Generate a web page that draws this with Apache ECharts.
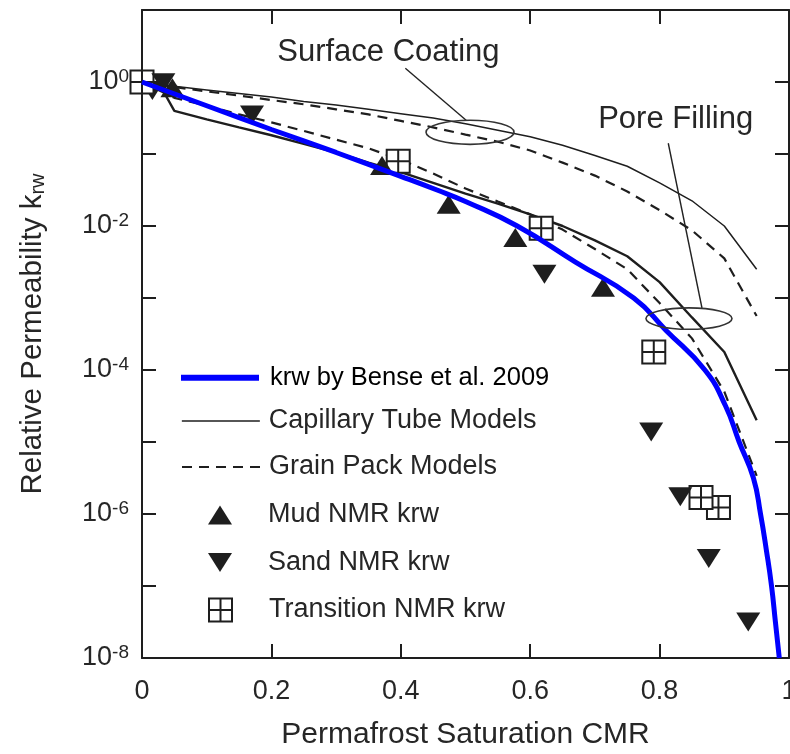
<!DOCTYPE html>
<html>
<head>
<meta charset="utf-8">
<title>Relative permeability vs permafrost saturation</title>
<script src="https://cdn.jsdelivr.net/npm/echarts@6/dist/echarts.min.js"></script>
<style>
  html, body { margin: 0; padding: 0; background: #fff; }
  #chart { width: 790px; height: 754px; }
</style>
</head>
<body>
<div id="chart"></div>
<script>
// ---- data -------------------------------------------------------------
// Model curves, sampled in permafrost saturation steps
const modelSat = [0, 0.05, 0.1, 0.15, 0.2, 0.25, 0.3, 0.35, 0.4, 0.45, 0.5, 0.55, 0.6, 0.65, 0.7, 0.75, 0.8, 0.85, 0.9, 0.95];
const capillaryCoating = [1, 0.871, 0.776, 0.692, 0.617, 0.537, 0.479, 0.417, 0.363, 0.316, 0.263, 0.214, 0.174, 0.132, 0.0955, 0.0676, 0.0398, 0.0224, 0.01, 0.00251];
const grainCoating = [1, 0.851, 0.741, 0.646, 0.562, 0.490, 0.417, 0.355, 0.288, 0.234, 0.186, 0.148, 0.112, 0.0759, 0.0501, 0.0302, 0.0166, 0.00871, 0.00355, 0.000562];
const grainFilling = [1, 0.603, 0.468, 0.355, 0.275, 0.209, 0.158, 0.120, 0.0832, 0.0537, 0.0331, 0.0219, 0.0145, 0.00891, 0.00479, 0.00251, 0.000851, 0.000275, 0.0000501, 0.00000339];
const capillaryFillingSat = [0, 0.03, 0.05, 0.1, 0.15, 0.2, 0.25, 0.3, 0.35, 0.4, 0.45, 0.5, 0.55, 0.6, 0.65, 0.7, 0.75, 0.8, 0.85, 0.9, 0.95];
const capillaryFilling = [1, 0.832, 0.398, 0.302, 0.234, 0.182, 0.138, 0.105, 0.0759, 0.0562, 0.0398, 0.0282, 0.0204, 0.0145, 0.01, 0.00631, 0.0038, 0.00166, 0.000537, 0.000178, 0.00002];

// Bense et al. (2009) relation
const benseSat = [0, 0.1, 0.2, 0.3, 0.4, 0.456, 0.5, 0.58, 0.67, 0.76, 0.81, 0.87, 0.902, 0.923, 0.945, 0.956, 0.965, 0.973, 0.979, 0.985];
const benseKrw = [1, 0.468, 0.219, 0.105, 0.049, 0.0316, 0.0219, 0.01, 0.00316, 0.001, 0.000355, 0.0001, 0.0000316, 0.00001, 0.00000316, 0.000001, 3.16e-7, 1e-7, 3.16e-8, 1e-8];

// NMR-derived krw
const mudSat = [0.047, 0.371, 0.474, 0.577, 0.7125];
const mudKrw = [0.832, 0.0692, 0.02, 0.00692, 0.00141];
const sandSat = [0.016, 0.033, 0.17, 0.622, 0.787, 0.832, 0.876, 0.937];
const sandKrw = [0.76, 0.977, 0.347, 0.00214, 1.38e-5, 1.74e-6, 2.4e-7, 3.16e-8];
const transSat = [0, 0.396, 0.617, 0.791, 0.891, 0.864];
const transKrw = [1, 0.0794, 0.00933, 0.000178, 1.23e-6, 1.70e-6];

// series / legend names
const BENSE = 'krw by Bense et al. 2009';
const CAPILLARY = 'Capillary Tube Models';
const GRAIN = 'Grain Pack Models';
const MUD = 'Mud NMR krw';
const SAND = 'Sand NMR krw';
const TRANSITION = 'Transition NMR krw';

// annotation labels
const annoSurface = 'Surface Coating';
const annoPore = 'Pore Filling';

// ---- styling ------------------------------------------------------------
const FONT = '"Liberation Sans", Arial, Helvetica, sans-serif';
const INK = '#1e1e1e';
const TEXT = '#262626';
const BLUE = '#0000ff';
const CROSS_BOX = 'path://M0,0H20V20H0Z M10,0V20 M0,10H20';
const DOWN_TRIANGLE = 'path://M0,0L24,0L12,19Z';

function pairs(xs, ys) { return xs.map((x, i) => [x, ys[i]]); }

const chart = echarts.init(document.getElementById('chart'), null, { renderer: 'canvas' });

const axisLineStyle = { color: INK, width: 2 };
const tickStyle = { show: true, inside: true, length: 14, lineStyle: { color: INK, width: 2 } };

function yLabel(v) {
  const e = Math.round(Math.log10(v));
  if (e % 2 !== 0) return '';
  return '{b|10}{s|' + e + '}';
}

// legend rows: one legend component per row so each sits at its own height
function legendRow(name, opts, textOpts) {
  return Object.assign({
    data: [name],
    orient: 'vertical',
    selectedMode: false,
    padding: 0,
    itemGap: 0,
    textStyle: Object.assign({ fontFamily: FONT, fontSize: 27, lineHeight: 27, color: TEXT }, textOpts)
  }, opts);
}

const LINE_ICON_W = 78;
const MARK_W = 24, MARK_H = 19;
const hideSymbol = { opacity: 0 };
const legends = [
  legendRow(BENSE, { left: 178, top: 377.7 - 13.5, itemWidth: LINE_ICON_W, itemHeight: 20,
    itemStyle: hideSymbol, lineStyle: { width: 6 } },
    { fontSize: 25.5, color: '#000', padding: [0, 0, 0, 6] }),
  legendRow(CAPILLARY, { left: 181, top: 421 - 13.5, itemWidth: LINE_ICON_W, itemHeight: 20,
    itemStyle: hideSymbol, lineStyle: { width: 1.7 } },
    { padding: [0, 0, 0, 4] }),
  legendRow(GRAIN, { left: 181, top: 467 - 13.5, itemWidth: LINE_ICON_W, itemHeight: 20,
    itemStyle: hideSymbol, lineStyle: { width: 2 } },
    { padding: [0, 0, 0, 4] }),
  legendRow(MUD, { left: 208, top: 515 - 13.5, itemWidth: MARK_W, itemHeight: MARK_H },
    { padding: [0, 0, 0, 31] }),
  legendRow(SAND, { left: 208, top: 562.5 - 13.5, itemWidth: MARK_W, itemHeight: MARK_H },
    { padding: [0, 0, 0, 31] }),
  legendRow(TRANSITION, { left: 208, top: 610 - 13.5, itemWidth: 23, itemHeight: 23 },
    { padding: [0, 0, 0, 32] })
];

const option = {
  animation: false,
  backgroundColor: '#fff',
  grid: { left: 142, top: 10, right: 1, bottom: 96, outerBoundsMode: 'none', containLabel: false },
  legend: legends,
  xAxis: [
    {
      type: 'value', min: 0, max: 1, interval: 0.2, position: 'bottom',
      name: 'Permafrost Saturation CMR', nameLocation: 'middle', nameGap: 62,
      nameTextStyle: { fontFamily: FONT, fontSize: 30, color: TEXT },
      axisLine: { show: true, onZero: false, lineStyle: axisLineStyle },
      axisTick: tickStyle,
      splitLine: { show: false },
      axisLabel: { fontFamily: FONT, fontSize: 27, color: TEXT, margin: 20 }
    },
    {
      type: 'value', min: 0, max: 1, interval: 0.2, position: 'top',
      axisLine: { show: true, onZero: false, lineStyle: axisLineStyle },
      axisTick: tickStyle,
      splitLine: { show: false },
      axisLabel: { show: false }
    }
  ],
  yAxis: [
    {
      type: 'log', logBase: 10, min: 1e-8, max: 10, splitNumber: 9, position: 'left',
      name: 'Relative Permeability k{sub|rw}', nameLocation: 'middle', nameGap: 94,
      nameTextStyle: {
        fontFamily: FONT, fontSize: 29.5, color: TEXT,
        rich: { sub: { fontFamily: FONT, fontSize: 20, lineHeight: 20, color: TEXT, verticalAlign: 'bottom' } }
      },
      axisLine: { show: true, onZero: false, lineStyle: axisLineStyle },
      axisTick: tickStyle,
      minorTick: { show: false },
      splitLine: { show: false },
      axisLabel: {
        margin: 13, formatter: yLabel,
        rich: {
          b: { fontFamily: FONT, fontSize: 27, lineHeight: 30, color: TEXT },
          s: { fontFamily: FONT, fontSize: 19, lineHeight: 19, color: TEXT, verticalAlign: 'top' }
        }
      }
    },
    {
      type: 'log', logBase: 10, min: 1e-8, max: 10, splitNumber: 9, position: 'right',
      axisLine: { show: true, onZero: false, lineStyle: axisLineStyle },
      axisTick: tickStyle,
      minorTick: { show: false },
      splitLine: { show: false },
      axisLabel: { show: false }
    }
  ],
  series: [
    { name: CAPILLARY, type: 'line', data: pairs(modelSat, capillaryCoating), symbol: 'none',
      lineStyle: { color: INK, width: 1.5 }, itemStyle: { color: INK }, z: 2 },
    { name: CAPILLARY, type: 'line', data: pairs(capillaryFillingSat, capillaryFilling), symbol: 'none',
      lineStyle: { color: INK, width: 2.4 }, itemStyle: { color: INK }, z: 2 },
    { name: GRAIN, type: 'line', data: pairs(modelSat, grainCoating), symbol: 'none',
      lineStyle: { color: INK, width: 2.2, type: [10, 7] }, itemStyle: { color: INK }, z: 2 },
    { name: GRAIN, type: 'line', data: pairs(modelSat, grainFilling), symbol: 'none',
      lineStyle: { color: INK, width: 2.2, type: [10, 7] }, itemStyle: { color: INK }, z: 2 },
    // the first sand point sits beneath the transition box at the origin
    { name: SAND, type: 'scatter', data: pairs(sandSat.slice(0, 1), sandKrw.slice(0, 1)), symbol: DOWN_TRIANGLE,
      symbolSize: [MARK_W, MARK_H], itemStyle: { color: INK, opacity: 1 }, z: 3 },
    { name: TRANSITION, type: 'scatter', data: pairs(transSat, transKrw), symbol: CROSS_BOX, symbolSize: 23,
      itemStyle: { color: '#fff', borderColor: INK, borderWidth: 2, opacity: 1 }, z: 3 },
    { name: MUD, type: 'scatter', data: pairs(mudSat, mudKrw), symbol: 'triangle', symbolSize: [MARK_W, MARK_H],
      itemStyle: { color: INK, opacity: 1 }, z: 3 },
    { name: SAND, type: 'scatter', data: pairs(sandSat.slice(1), sandKrw.slice(1)), symbol: DOWN_TRIANGLE,
      symbolSize: [MARK_W, MARK_H], itemStyle: { color: INK, opacity: 1 }, z: 3 },
    { name: BENSE, type: 'line', data: pairs(benseSat, benseKrw), symbol: 'none', smooth: 0.5,
      lineStyle: { color: BLUE, width: 5 }, itemStyle: { color: BLUE }, z: 5 }
  ]
};

chart.setOption(option);

// ---- annotations placed in data coordinates -------------------------------
function toPx(pt) { return chart.convertToPixel({ xAxisIndex: 0, yAxisIndex: 0 }, pt); }

function ellipseAt(centerSat, centerKrw, halfSat, halfDecades) {
  const c = toPx([centerSat, centerKrw]);
  const rx = toPx([centerSat + halfSat, centerKrw])[0] - c[0];
  const ry = c[1] - toPx([centerSat, centerKrw * Math.pow(10, halfDecades)])[1];
  return {
    type: 'ellipse', z: 10, silent: true,
    shape: { cx: c[0], cy: c[1], rx: rx, ry: ry },
    style: { fill: null, stroke: '#333', lineWidth: 1.6 }
  };
}
function leader(a, b) {
  const p = toPx(a), q = toPx(b);
  return {
    type: 'line', z: 10, silent: true,
    shape: { x1: p[0], y1: p[1], x2: q[0], y2: q[1] },
    style: { stroke: '#222', lineWidth: 1.4 }
  };
}
function label(text, at) {
  const p = toPx(at);
  return {
    type: 'text', z: 10, silent: true, x: p[0], y: p[1],
    style: { text: text, font: '31px ' + FONT, fill: TEXT, align: 'left', verticalAlign: 'middle',
      textAlign: 'left', textVerticalAlign: 'middle' }
  };
}

chart.setOption({
  graphic: [
    label(annoSurface, [0.209, 2.57]),
    leader([0.407, 1.55], [0.501, 0.294]),
    ellipseAt(0.507, 0.2, 0.068, 0.167),
    label(annoPore, [0.705, 0.302]),
    leader([0.8134, 0.141], [0.8655, 7.26e-4]),
    ellipseAt(0.8454, 5.18e-4, 0.0665, 0.149)
  ]
});
</script>
</body>
</html>
